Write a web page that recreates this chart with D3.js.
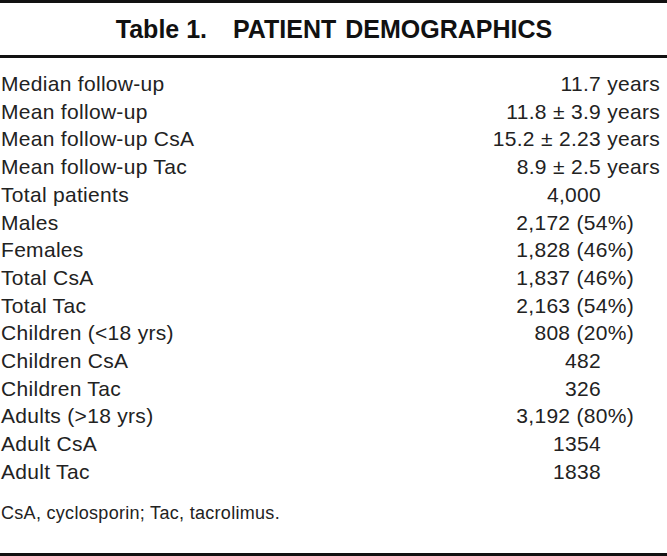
<!DOCTYPE html>
<html>
<head>
<meta charset="utf-8">
<script src="https://cdn.jsdelivr.net/npm/d3@7"></script>
<style>
  body { margin: 0; background: #fff; }
  svg { display: block; }
</style>
</head>
<body>
<svg id="vis"></svg>
<script>
const plotWidth = 667;
const plotHeight = 556;

const titleNumber = 'Table 1.';
const titleText = 'PATIENT DEMOGRAPHICS';

const rowLabels = [
    'Median follow-up', 'Mean follow-up', 'Mean follow-up CsA', 'Mean follow-up Tac',
    'Total patients', 'Males', 'Females', 'Total CsA', 'Total Tac',
    'Children (<18 yrs)', 'Children CsA', 'Children Tac',
    'Adults (>18 yrs)', 'Adult CsA', 'Adult Tac'
];
const rowValues = [
    '11.7 years', '11.8 \u00b1 3.9 years', '15.2 \u00b1 2.23 years', '8.9 \u00b1 2.5 years',
    '4,000', '2,172 (54%)', '1,828 (46%)', '1,837 (46%)', '2,163 (54%)',
    '808 (20%)', '482', '326',
    '3,192 (80%)', '1354', '1838'
];
const footnote = 'CsA, cyclosporin; Tac, tacrolimus.';

const svg = d3.select('#vis')
            .attr('width', plotWidth)
            .attr('height', plotHeight);

const font = '"Liberation Sans", Arial, Helvetica, sans-serif';

// rows laid out on a point scale (baseline positions)
const y = d3.scalePoint()
            .domain(d3.range(rowLabels.length))
            .range([91, 91 + 27.7 * (rowLabels.length - 1)]);

// where each kind of value ends
function valueEnd(v) {
    if (v.includes('years')) return 660;
    if (v.includes('%')) return 634;
    return 601;
}

function drawRules() {
    const rules = [0, 55, 553];
    svg.selectAll('rect.rule').data(rules).enter()
        .append('rect')
        .attr('class', 'rule')
        .attr('x', 0)
        .attr('y', d => d)
        .attr('width', plotWidth)
        .attr('height', 3)
        .style('fill', '#111');
}

function drawTitle() {
    const t = svg.append('text')
        .attr('x', 334)
        .attr('y', 38)
        .attr('text-anchor', 'middle')
        .style('font-family', font)
        .style('font-weight', 'bold')
        .style('font-size', '25px')
        .style('fill', '#111');
    t.append('tspan').text(titleNumber);
    t.append('tspan')
        .attr('dx', 26)
        .style('word-spacing', '2px')
        .text(titleText);
}

function drawRows() {
    const rows = svg.selectAll('g.row').data(rowLabels).enter()
        .append('g')
        .attr('class', 'row')
        .attr('transform', (d, i) => `translate(0,${y(i)})`);

    rows.append('text')
        .attr('x', 1)
        .style('font-family', font)
        .style('font-size', '21px')
        .style('letter-spacing', '0.3px')
        .style('fill', '#222')
        .text(d => d);

    rows.append('text')
        .attr('x', (d, i) => valueEnd(rowValues[i]))
        .attr('text-anchor', 'end')
        .style('font-family', font)
        .style('font-size', '21px')
        .style('letter-spacing', '0.3px')
        .style('fill', '#222')
        .text((d, i) => rowValues[i]);

    svg.append('text')
        .attr('x', 1)
        .attr('y', 519)
        .style('font-family', font)
        .style('font-size', '18px')
        .style('letter-spacing', '0.3px')
        .style('fill', '#222')
        .text(footnote);
}

drawRules();
drawTitle();
drawRows();
</script>
</body>
</html>
